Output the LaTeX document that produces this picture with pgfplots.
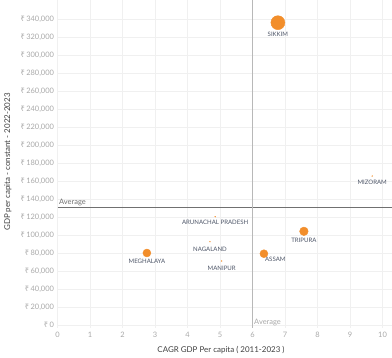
\documentclass[border=0pt]{standalone}
\usepackage{fontspec}
\setmainfont{Lato}
\newfontfamily\rfont{Noto Sans}
\usepackage{pgfplots}
\pgfplotsset{compat=1.18}
\definecolor{dot}{HTML}{F28E2B}
\definecolor{tickc}{HTML}{A8A8A8}
\definecolor{lab}{HTML}{4E5668}
\definecolor{avg}{HTML}{707070}
\tikzset{lbl/.style={font=\fontsize{6.1}{6.5}\selectfont, text=lab, inner sep=0pt}}
\begin{document}
\begin{tikzpicture}[x=1bp,y=1bp]
\useasboundingbox (0,0) rectangle (392,358);
\begin{axis}[at={(57.5bp,30bp)}, anchor=south west, scale only axis,
  width=334.5bp, height=328bp,
  xmin=0, xmax=10.29, ymin=-3333, ymax=361111,
  xtick={0,...,10}, ytick={0,20000,...,340000},
  scaled y ticks=false,
  /pgf/number format/assume math mode=true,
  /pgf/number format/fixed,
  /pgf/number format/precision=0,
  /pgf/number format/1000 sep={,},
  yticklabel={{\rfont ₹}\kern1.5bp\pgfmathprintnumber{\tick}},
  grid=major, major grid style={color=black!6, line width=0.6bp},
  axis line style={draw=none}, major tick length=0pt,
  tick label style={color=tickc, font=\fontsize{7.5}{9}\selectfont},
  xticklabel style={yshift=-1bp},
  clip=false,
]
\addplot[avg, line width=0.9bp] coordinates {(0,131000) (10.29,131000)};
\addplot[black!28, line width=0.9bp] coordinates {(6.0,-3333) (6.0,361111)};
\node[anchor=south west, font=\fontsize{7.5}{9}\selectfont, text=avg, inner sep=1.5bp] at (axis cs:0,131000) {Average};
\node[anchor=south west, font=\fontsize{7.5}{9}\selectfont, text=tickc, inner sep=1.5bp] at (axis cs:6.0,-3333) {Average};
% points
\addplot[only marks, mark=*, mark size=7bp, color=dot] coordinates {(6.78,335900)} node[lbl, below=9bp] {SIKKIM};
\addplot[only marks, mark=*, mark size=4bp, color=dot] coordinates {(2.75,80000)} node[lbl, below=6bp] {MEGHALAYA};
\addplot[only marks, mark=*, mark size=4.3bp, color=dot] coordinates {(7.58,104100)} node[lbl, below=7bp] {TRIPURA};
\addplot[only marks, mark=*, mark size=4bp, color=dot] coordinates {(6.35,79200)} node[lbl, anchor=north west, xshift=1bp, yshift=-3bp] {ASSAM};
\addplot[only marks, mark=*, mark size=0.4bp, color=dot] coordinates {(9.68,165500)} node[lbl, below=4bp] {MIZORAM};
\addplot[only marks, mark=*, mark size=0.4bp, color=dot] coordinates {(4.85,120300)} node[lbl, below=3bp] {ARUNACHAL PRADESH};
\addplot[only marks, mark=*, mark size=0.4bp, color=dot] coordinates {(4.69,92600)} node[lbl, below=5bp] {NAGALAND};
\addplot[only marks, mark=*, mark size=0.4bp, color=dot] coordinates {(5.05,71100)} node[lbl, below=5bp] {MANIPUR};
\end{axis}
\node[font=\fontsize{8}{10}\selectfont, text=black!75] at (221,8) {CAGR GDP Per capita ( 2011-2023 )};
\node[rotate=90, font=\fontsize{8}{10}\selectfont, text=black!75] at (8,196) {GDP per capita - constant - 2022-2023};
\end{tikzpicture}
\end{document}
